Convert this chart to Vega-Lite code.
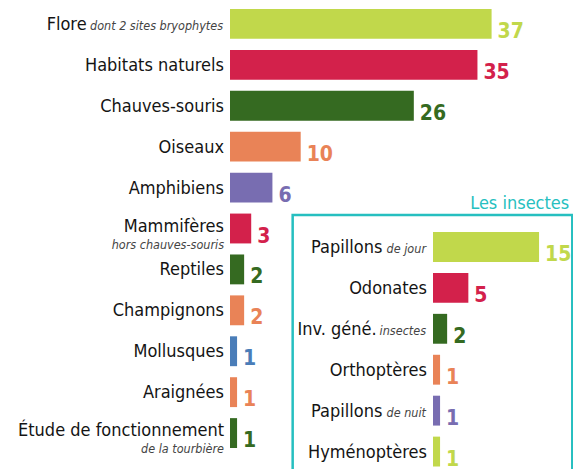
{
  "$schema": "https://vega.github.io/schema/vega-lite/v6.json",
  "width": 573,
  "height": 469,
  "padding": 0,
  "autosize": {"type": "none"},
  "background": "white",
  "config": {"view": {"stroke": null}, "font": "'Noto Sans Condensed', 'Noto Sans ExtraCondensed', 'DejaVu Sans Condensed', 'Roboto Condensed', sans-serif"},
  "datasets": {
    "principal": [
      {"cle": "Flore dont 2 sites bryophytes", "nom": "Flore", "suite": "dont 2 sites bryophytes", "ligne2": "", "n": 37},
      {"cle": "Habitats naturels", "nom": "Habitats naturels", "suite": "", "ligne2": "", "n": 35},
      {"cle": "Chauves-souris", "nom": "Chauves-souris", "suite": "", "ligne2": "", "n": 26},
      {"cle": "Oiseaux", "nom": "Oiseaux", "suite": "", "ligne2": "", "n": 10},
      {"cle": "Amphibiens", "nom": "Amphibiens", "suite": "", "ligne2": "", "n": 6},
      {"cle": "Mammifères hors chauves-souris", "nom": "Mammifères", "suite": "", "ligne2": "hors chauves-souris", "n": 3},
      {"cle": "Reptiles", "nom": "Reptiles", "suite": "", "ligne2": "", "n": 2},
      {"cle": "Champignons", "nom": "Champignons", "suite": "", "ligne2": "", "n": 2},
      {"cle": "Mollusques", "nom": "Mollusques", "suite": "", "ligne2": "", "n": 1},
      {"cle": "Araignées", "nom": "Araignées", "suite": "", "ligne2": "", "n": 1},
      {"cle": "Étude de fonctionnement de la tourbière", "nom": "Étude de fonctionnement", "suite": "", "ligne2": "de la tourbière", "n": 1}
    ],
    "insectes": [
      {"cle": "Papillons de jour", "nom": "Papillons", "suite": "de jour", "n": 15},
      {"cle": "Odonates", "nom": "Odonates", "suite": "", "n": 5},
      {"cle": "Inv. géné. insectes", "nom": "Inv. géné.", "suite": "insectes", "n": 2},
      {"cle": "Orthoptères", "nom": "Orthoptères", "suite": "", "n": 1},
      {"cle": "Papillons de nuit", "nom": "Papillons", "suite": "de nuit", "n": 1},
      {"cle": "Hyménoptères", "nom": "Hyménoptères", "suite": "", "n": 1}
    ],
    "encadre": [{"titre": "Les insectes", "cle": "Papillons de jour", "fin": "Hyménoptères", "gauche": -19.85, "droite": 19.7}]
  },
  "resolve": {"scale": {"x": "independent", "y": "independent"}},
  "layer": [
    {
      "data": {"name": "principal"},
      "encoding": {
        "y": {"field": "cle", "type": "nominal", "sort": null, "axis": null,
              "scale": {"range": [9, 448], "paddingInner": 0.27, "paddingOuter": 0}},
        "x": {"field": "n", "type": "quantitative", "axis": null,
              "scale": {"domain": [0, 40], "range": [230, 512.8], "nice": false, "zero": true}}
      },
      "layer": [
        {
          "mark": {"type": "bar"},
          "encoding": {
            "color": {"field": "cle", "type": "nominal", "legend": null,
              "scale": {
                "domain": ["Flore dont 2 sites bryophytes", "Habitats naturels", "Chauves-souris", "Oiseaux", "Amphibiens", "Mammifères hors chauves-souris", "Reptiles", "Champignons", "Mollusques", "Araignées", "Étude de fonctionnement de la tourbière", "Papillons de jour", "Odonates", "Inv. géné. insectes", "Orthoptères", "Papillons de nuit", "Hyménoptères"],
                "range": ["#c1d84b", "#d3214b", "#356a21", "#e98357", "#786db1", "#d3214b", "#356a21", "#e98357", "#4a7db8", "#e98357", "#356a21", "#c1d84b", "#d3214b", "#356a21", "#e98357", "#786db1", "#c1d84b"]
              }}
          }
        },
        {
          "mark": {"type": "text", "align": "left", "baseline": "alphabetic", "dx": 6, "dy": 14, "fontSize": 21, "fontWeight": "bold"},
          "encoding": {
            "text": {"field": "n", "type": "quantitative"},
            "color": {"field": "cle", "type": "nominal", "legend": null}
          }
        },
        {
          "mark": {"type": "text", "align": "right", "baseline": "alphabetic", "fontSize": 18, "color": "#141414",
                   "dy": {"expr": "datum.ligne2 ? 3 : 6"},
                   "dx": {"expr": "datum.suite ? -10 - 5.8 * length(datum.suite) : -6"}},
          "encoding": {
            "x": {"datum": 0, "type": "quantitative"},
            "text": {"field": "nom", "type": "nominal"}
          }
        },
        {
          "mark": {"type": "text", "align": "right", "baseline": "alphabetic", "dx": -7, "dy": 6, "fontSize": 12.5, "fontStyle": "italic", "color": "#444444"},
          "encoding": {
            "x": {"datum": 0, "type": "quantitative"},
            "text": {"field": "suite", "type": "nominal"}
          }
        },
        {
          "mark": {"type": "text", "align": "right", "baseline": "alphabetic", "dx": -6, "dy": 20, "fontSize": 12.5, "fontStyle": "italic", "color": "#444444"},
          "encoding": {
            "x": {"datum": 0, "type": "quantitative"},
            "text": {"field": "ligne2", "type": "nominal"}
          }
        }
      ]
    },
    {
      "encoding": {
        "y": {"field": "cle", "type": "nominal", "sort": null, "axis": null,
              "scale": {"domain": ["Papillons de jour", "Odonates", "Inv. géné. insectes", "Orthoptères", "Papillons de nuit", "Hyménoptères"], "range": [232, 466.5], "paddingInner": 0.27, "paddingOuter": 0}},
        "x": {"field": "n", "type": "quantitative", "axis": null,
              "scale": {"domain": [0, 20], "range": [433, 574.4], "nice": false, "zero": true}}
      },
      "layer": [
        {
          "data": {"name": "encadre"},
          "mark": {"type": "rect", "filled": false, "fill": null, "stroke": "#26bfc0", "strokeWidth": 2.5},
          "encoding": {
            "x": {"field": "gauche", "type": "quantitative"},
            "x2": {"field": "droite"},
            "y": {"field": "cle", "type": "nominal", "bandPosition": -0.57},
            "y2": {"field": "fin", "bandPosition": 2}
          }
        },
        {
          "data": {"name": "encadre"},
          "mark": {"type": "text", "align": "right", "baseline": "alphabetic", "dx": -3, "dy": -23, "fontSize": 18, "color": "#26bfc0"},
          "encoding": {
            "x": {"field": "droite", "type": "quantitative"},
            "y": {"field": "cle", "type": "nominal", "bandPosition": 0},
            "text": {"field": "titre", "type": "nominal"}
          }
        },
        {
          "data": {"name": "insectes"},
          "mark": {"type": "bar"},
          "encoding": {
            "color": {"field": "cle", "type": "nominal", "legend": null}
          }
        },
        {
          "data": {"name": "insectes"},
          "mark": {"type": "text", "align": "left", "baseline": "alphabetic", "dx": 6, "dy": 14, "fontSize": 21, "fontWeight": "bold"},
          "encoding": {
            "text": {"field": "n", "type": "quantitative"},
            "color": {"field": "cle", "type": "nominal", "legend": null}
          }
        },
        {
          "data": {"name": "insectes"},
          "mark": {"type": "text", "align": "right", "baseline": "alphabetic", "dy": 6, "fontSize": 18, "color": "#141414",
                   "dx": {"expr": "datum.suite ? -10 - 5.8 * length(datum.suite) : -6"}},
          "encoding": {
            "x": {"datum": 0, "type": "quantitative"},
            "text": {"field": "nom", "type": "nominal"}
          }
        },
        {
          "data": {"name": "insectes"},
          "mark": {"type": "text", "align": "right", "baseline": "alphabetic", "dx": -7, "dy": 6, "fontSize": 12.5, "fontStyle": "italic", "color": "#444444"},
          "encoding": {
            "x": {"datum": 0, "type": "quantitative"},
            "text": {"field": "suite", "type": "nominal"}
          }
        }
      ]
    }
  ]
}
